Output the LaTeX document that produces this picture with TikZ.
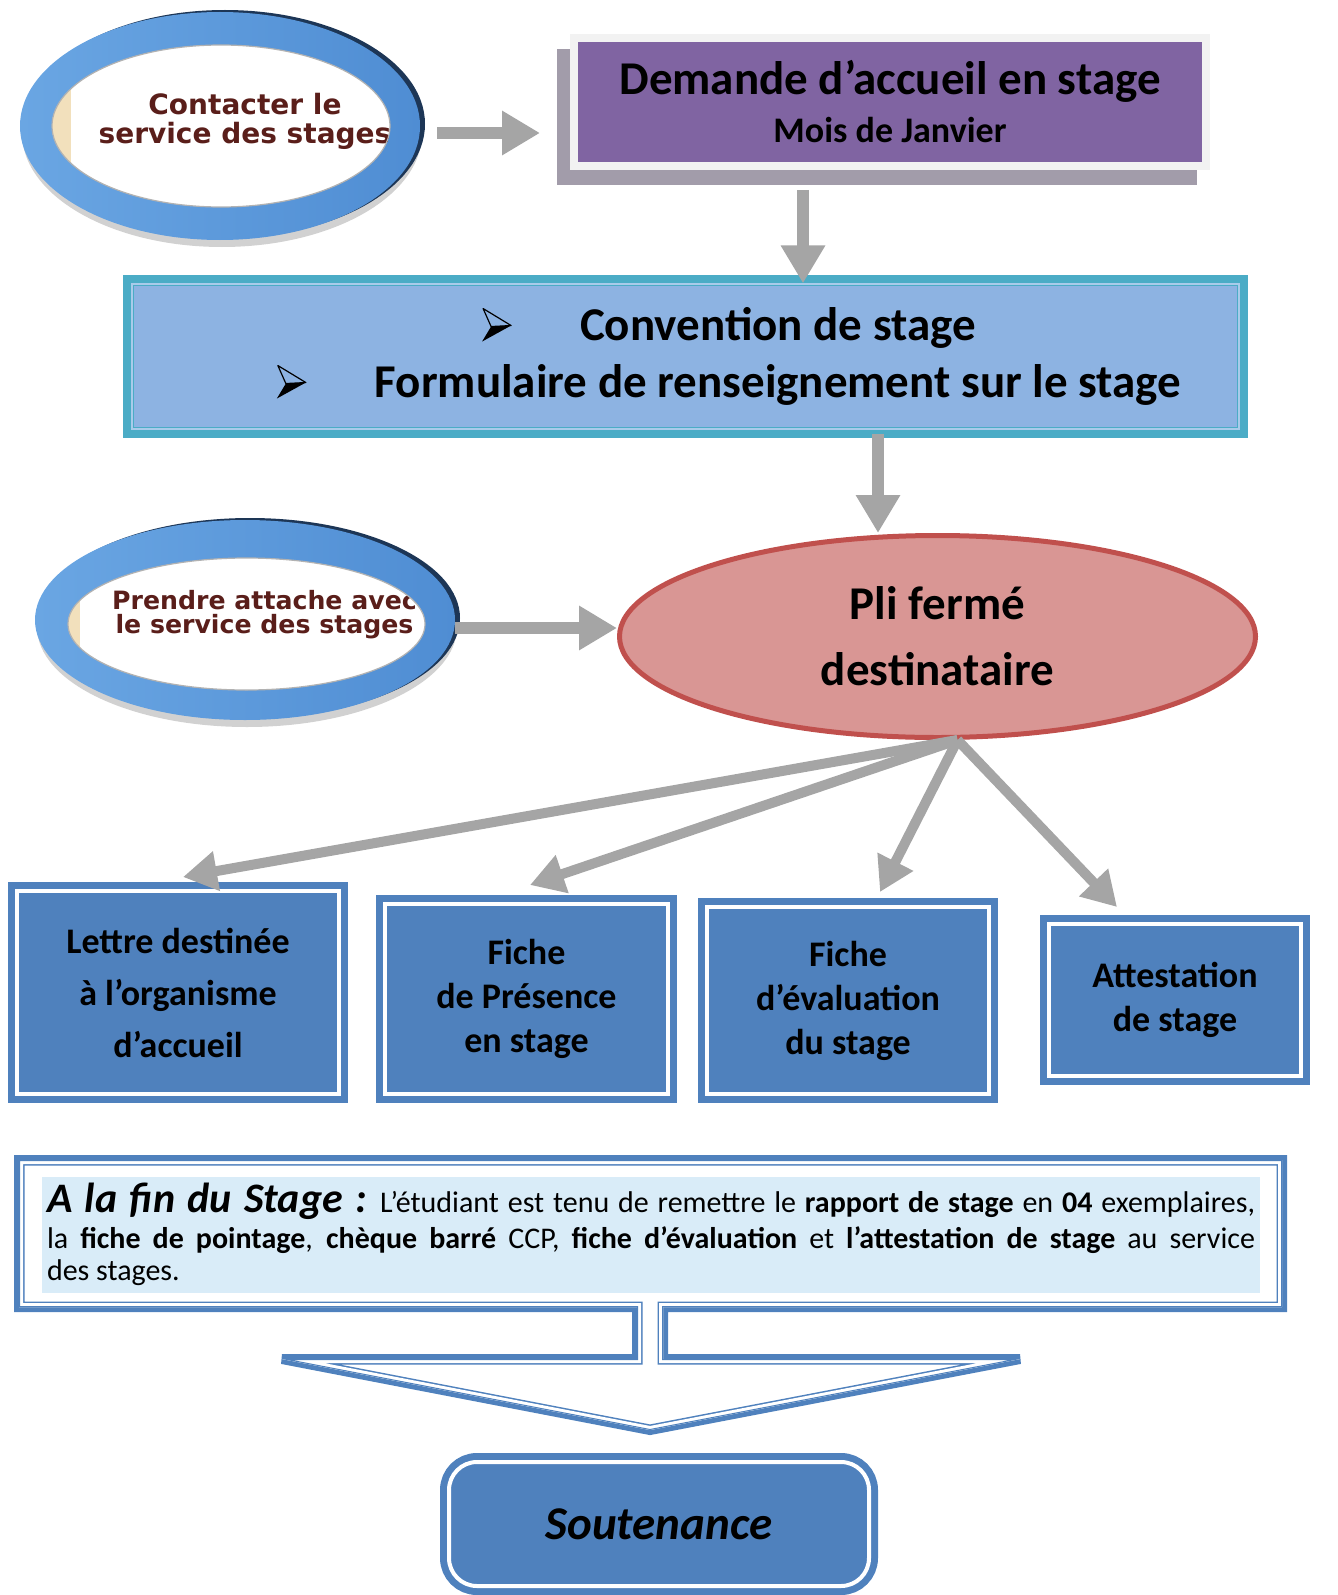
\documentclass[tikz,border=0pt]{standalone}
\usepackage{fontspec}
\setmainfont{Carlito}
\newfontfamily\ringfont{DejaVu Sans}
\usetikzlibrary{positioning, arrows.meta, shapes.geometric, shadows}

\definecolor{arrowgray}{HTML}{A5A5A5}
\definecolor{demandefill}{HTML}{8064A2}
\definecolor{framegray}{HTML}{F2F2F2}
\definecolor{shadowlilac}{HTML}{A29CAA}
\definecolor{convteal}{HTML}{4BACC6}
\definecolor{convfill}{HTML}{8DB3E2}
\definecolor{convlight}{HTML}{A9CBEA}
\definecolor{plifill}{HTML}{D99694}
\definecolor{pliline}{HTML}{C0504D}
\definecolor{boxblue}{HTML}{4F81BD}
\definecolor{finfill}{HTML}{D9ECF8}
\definecolor{ringblue}{HTML}{4F8DD3}
\definecolor{ringlight}{HTML}{6AA6E3}
\definecolor{ringdark}{HTML}{1D3656}
\definecolor{ringtan}{HTML}{F2E0BC}
\definecolor{ringtext}{HTML}{5A1E1A}

% 3d arrowhead used as bullet
\newcommand\puce{\tikz[x=1pt, y=1pt, baseline={(0pt,-7.5pt)}]{
    \draw[black, line width=0.6pt, line join=round] (0.5,8.5) -- (14.5,0) -- (4.5,-0.5) -- cycle;
    \fill[black] (4.5,-0.5) -- (14.5,0) -- (0,-8) -- cycle;}}
\newcommand\finshape{(19,1160) -- (1282,1160) -- (1282,1307) -- (663,1307) -- (663,1359) -- (1020,1359) -- (650,1430) -- (282,1359) -- (637,1359) -- (637,1307) -- (19,1307) -- cycle}

\tikzset{
bigarrow/.style={draw=arrowgray, line width=6pt, -{Triangle[length=19pt, width=21pt]}},
fanarrow/.style={draw=arrowgray, line width=5pt, -{Triangle[length=17pt, width=19pt]}},
ring/.style={ellipse, inner sep=0pt, left color=ringlight, right color=ringblue,
  general shadow={fill=black, opacity=0.18, shadow xshift=1pt, shadow yshift=-3.5pt},
  general shadow={fill=ringdark, shadow xshift=2.5pt, shadow yshift=1pt}},
ringface/.style={ellipse, inner sep=0pt, fill=white, draw=black!30, line width=0.6pt},
ringlabel/.style={text=ringtext, align=center, inner sep=0pt},
demandebox/.style={rectangle, fill=demandefill, draw=framegray, line width=4pt, align=center,
  general shadow={fill=shadowlilac, draw=shadowlilac, shadow xshift=-6.5pt, shadow yshift=-7.5pt}},
convbox/.style={rectangle, fill=convfill, draw=convteal, double=convlight, double distance=1pt, line width=0.6pt,
  preaction={draw=convteal, line width=9pt}},
plinode/.style={ellipse, fill=plifill, draw=pliline, line width=2.5pt, inner sep=0pt, align=center,
  font=\bfseries\fontsize{23.5}{33}\selectfont},
docbox/.style={rectangle, fill=boxblue, draw=white, line width=2pt, preaction={draw=boxblue, line width=9pt},
  align=center, font=\bfseries\fontsize{18}{22}\selectfont},
}

\begin{document}
\begin{tikzpicture}[x=0.5pt, y=-0.5pt]
    \useasboundingbox (0,0) rectangle (1338,1595);

    %first step
    \node[ring, minimum width=200pt, minimum height=114pt] (ring1) at (220,126) {};
    \node[ringface, minimum width=169pt, minimum height=81pt, path picture={
        \fill[ringtan] (path picture bounding box.south west) rectangle ++(9.5pt,90pt);
        \node[ringlabel, font=\ringfont\bfseries\fontsize{14}{14.5}\selectfont] (contacttext)
            at ([xshift=12pt, yshift=2.5pt]path picture bounding box.center) {Contacter le\\service des stages};
    }] (contact) at (221,126) {};
    \node[demandebox, minimum width=316pt, minimum height=63.75pt, font=\bfseries\fontsize{23.5}{24}\selectfont] (demande) at (890,102)
        {Demande d’accueil en stage\\{\fontsize{18}{24}\selectfont Mois de Janvier}};

    %documents
    \node[convbox, minimum width=553.5pt, minimum height=72.5pt] (convention) at (685.5,356.5) {};
    \node[align=center, inner sep=0pt, font=\bfseries\fontsize{23.5}{28.5}\selectfont] (convlist) at ([xshift=21.75pt]convention.center)
        {\makebox[49pt][l]{\puce}Convention de stage\\\makebox[49pt][l]{\puce}Formulaire de renseignement sur le stage};

    %second step
    \node[ring, minimum width=210pt, minimum height=100pt] (ring2) at (245,620) {};
    \node[ringface, minimum width=178.5pt, minimum height=66pt, path picture={
        \fill[ringtan] (path picture bounding box.south west) rectangle ++(6pt,70pt);
        \node[ringlabel, font=\ringfont\bfseries\fontsize{12.6}{12}\selectfont] (attachetext)
            at ([xshift=9pt, yshift=4.5pt]path picture bounding box.center) {Prendre attache avec\\le service des stages};
    }] (attache) at (246.5,624) {};
    \node[plinode, minimum width=318pt, minimum height=101pt] (pli) at (937.5,636.5) {Pli fermé\\destinataire};

    %contents of the envelope
    \node[docbox, minimum width=161pt, minimum height=101.5pt, font=\bfseries\fontsize{18}{26}\selectfont] (lettre) at (178,992.5)
        {Lettre destinée\\à l’organisme\\d’accueil};
    \node[docbox, minimum width=141.5pt, minimum height=95pt] (presence) at (526.5,999) {Fiche\\de Présence\\en stage};
    \node[docbox, minimum width=141pt, minimum height=93.5pt] (evaluation) at (848,1000.5) {Fiche\\d’évaluation\\du stage};
    \node[docbox, minimum width=126pt, minimum height=76pt] (attestation) at (1175,1000) {Attestation\\de stage};

    %end of the internship
    \draw[boxblue, line width=5pt] \finshape;
    \begin{scope}
        \clip \finshape;
        \fill[white] \finshape;
        \draw[boxblue, line width=5.5pt] \finshape;
        \draw[white, line width=4pt] \finshape;
        \draw[boxblue, line width=1pt] \finshape;
    \end{scope}
    \node[fill=finfill, text width=604pt, inner xsep=2.5pt, minimum height=57.5pt, align=justify, font=\fontsize{15}{16}\selectfont] (fin) at (651,1234.5)
        {{\fontsize{21}{24}\selectfont\bfseries\itshape A la fin du Stage :} L’étudiant est tenu de remettre le \textbf{rapport de stage} en \textbf{04} exemplaires,\vspace{2pt}\linebreak
        la \textbf{fiche de pointage}, \textbf{chèque barré} CCP, \textbf{fiche d’évaluation} et \textbf{l’attestation de stage} au service\linebreak
        des stages.};
    \node[docbox, rounded corners=14pt, minimum width=210pt, minimum height=62pt, font=\bfseries\itshape\fontsize{23.5}{26}\selectfont] (soutenance) at (659,1524) {Soutenance};

    %arrows between the steps
    \coordinate (r1) at ([yshift=-3.5pt]ring1.east);
    \draw[bigarrow, shorten <=8.5pt, shorten >=15pt] (r1) -- (r1 -| demande.west);
    \coordinate (d1) at ([xshift=-43.5pt]demande.south);
    \draw[bigarrow, shorten <=10pt] (d1) -- (d1 |- convention.north);
    \coordinate (c1) at ([xshift=96.25pt]convention.south);
    \draw[bigarrow, shorten <=2pt] (c1) -- (c1 |- pli.north);
    \coordinate (r2) at ([yshift=-4pt]ring2.east);
    \draw[bigarrow] (r2) -- (r2 -| pli.west);

    %arrows to the documents
    \coordinate (fan) at ([xshift=10pt]pli.south);
    \draw[fanarrow] (fan) -- ([xshift=2.5pt, yshift=6pt]lettre.north);
    \draw[fanarrow] (fan) -- ([xshift=1.75pt, yshift=8.5pt]presence.north);
    \draw[fanarrow] (fan) -- ([xshift=16pt, yshift=6.5pt]evaluation.north);
    \draw[fanarrow] (fan) -- ([xshift=-29pt, yshift=7.5pt]attestation.north);
\end{tikzpicture}
\end{document}
